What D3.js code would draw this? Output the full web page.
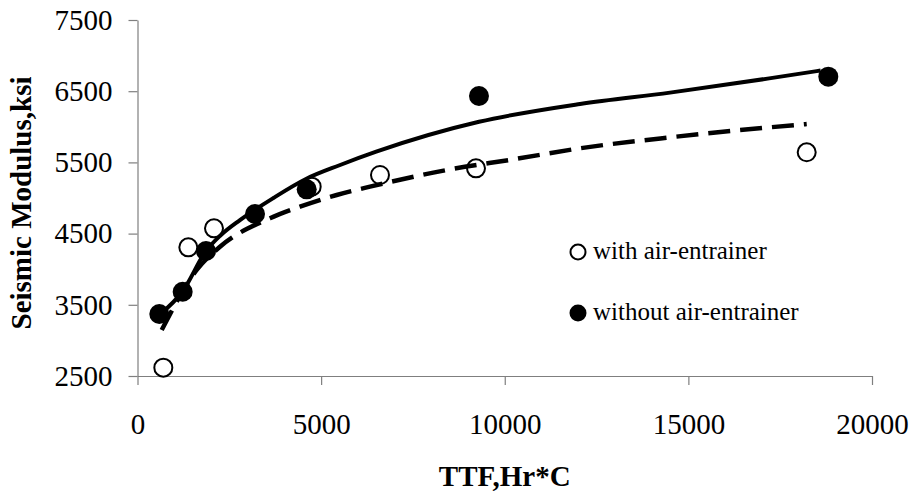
<!DOCTYPE html>
<html>
<head>
<meta charset="utf-8">
<script src="https://cdn.jsdelivr.net/npm/d3@7"></script>
<style>
  body { margin: 0; background: #fff; }
  svg { display: block; font-family: "Liberation Serif", "Times New Roman", serif; }
  .axis path, .axis line { stroke: #7f7f7f; stroke-width: 1.2; }
  .axis text { font-size: 29px; fill: #000; font-family: "Liberation Serif", serif; }
</style>
</head>
<body>
<svg width="915" height="495"></svg>
<script>
// measured points
const ttfWith = [703, 1384, 2083, 4743, 6603, 9217, 18222];
const modWith = [2617, 4307, 4574, 5159, 5323, 5417, 5642];
const ttfWithout = [594, 1230, 1865, 3200, 4607, 9298, 18810];
const modWithout = [3371, 3684, 4256, 4775, 5122, 6433, 6704];

// trend lines
const fitWithoutX = [600, 1230, 1870, 2250, 2790, 3700, 4600, 5500, 6500, 9300, 12050, 14500, 17200, 18600];
const fitWithoutY = [3360, 3690, 4260, 4470, 4690, 5000, 5270, 5460, 5650, 6070, 6320, 6480, 6680, 6790];
const fitWithX = [659, 1612, 2246, 3608, 4425, 5424, 6331, 8419, 10233, 12049, 14500, 17223, 18222];
const fitWithY = [3146, 3989, 4316, 4715, 4878, 5042, 5159, 5393, 5543, 5698, 5852, 5993, 6039];

const xTicks = [0, 5000, 10000, 15000, 20000];
const yTicks = [2500, 3500, 4500, 5500, 6500, 7500];
const seriesNames = ["with air-entrainer", "without air-entrainer"];

const svg = d3.select("svg");

const x = d3.scaleLinear().domain([0, 20000]).range([137.5, 872]);
const y = d3.scaleLinear().domain([2500, 7500]).range([376, 20]);

svg.append("g")
    .attr("class", "axis")
    .attr("transform", `translate(0,${y(2500)})`)
    .call(d3.axisBottom(x).tickValues(xTicks).tickFormat(d3.format("d"))
        .tickSize(9).tickSizeOuter(0).tickPadding(28));

svg.append("g")
    .attr("class", "axis")
    .attr("transform", `translate(${x(0)},0)`)
    .call(d3.axisLeft(y).tickValues(yTicks).tickFormat(d3.format("d"))
        .tickSize(9).tickSizeOuter(0).tickPadding(16));

// axis titles
svg.append("text")
    .attr("x", x(10000))
    .attr("y", 486)
    .attr("text-anchor", "middle")
    .style("font-size", "29px")
    .style("font-weight", "bold")
    .text("TTF,Hr*C");

svg.append("text")
    .attr("transform", "translate(31,203) rotate(-90)")
    .attr("text-anchor", "middle")
    .style("font-size", "29px")
    .style("font-weight", "bold")
    .text("Seismic Modulus,ksi");

const line = d3.line()
    .x(d => x(d[0]))
    .y(d => y(d[1]))
    .curve(d3.curveMonotoneX);

const openPts = d3.zip(ttfWith, modWith);
const filledPts = d3.zip(ttfWithout, modWithout);

svg.selectAll(".open")
    .data(openPts)
    .enter()
    .append("circle")
    .attr("class", "open")
    .attr("cx", d => x(d[0]))
    .attr("cy", d => y(d[1]))
    .attr("r", 9)
    .attr("fill", "#fff")
    .attr("stroke", "#000")
    .attr("stroke-width", 2);

svg.append("path")
    .datum(d3.zip(fitWithX, fitWithY))
    .attr("d", line)
    .attr("fill", "none")
    .attr("stroke", "#000")
    .attr("stroke-width", 4.5)
    .attr("stroke-dasharray", "22,10");

svg.append("path")
    .datum(d3.zip(fitWithoutX, fitWithoutY))
    .attr("d", line)
    .attr("fill", "none")
    .attr("stroke", "#000")
    .attr("stroke-width", 4);

svg.selectAll(".filled")
    .data(filledPts)
    .enter()
    .append("circle")
    .attr("class", "filled")
    .attr("cx", d => x(d[0]))
    .attr("cy", d => y(d[1]))
    .attr("r", 10)
    .attr("fill", "#000");

// legend
const legend = svg.append("g").attr("transform", "translate(578,252)");
seriesNames.forEach((name, i) => {
    const g = legend.append("g").attr("transform", `translate(0,${i * 61})`);
    g.append("circle")
        .attr("r", i === 0 ? 7.5 : 8.5)
        .attr("fill", i === 0 ? "#fff" : "#000")
        .attr("stroke", "#000")
        .attr("stroke-width", i === 0 ? 2 : 0);
    g.append("text")
        .attr("x", 15)
        .attr("y", 7)
        .style("font-size", "25px")
        .text(name);
});
</script>
</body>
</html>
